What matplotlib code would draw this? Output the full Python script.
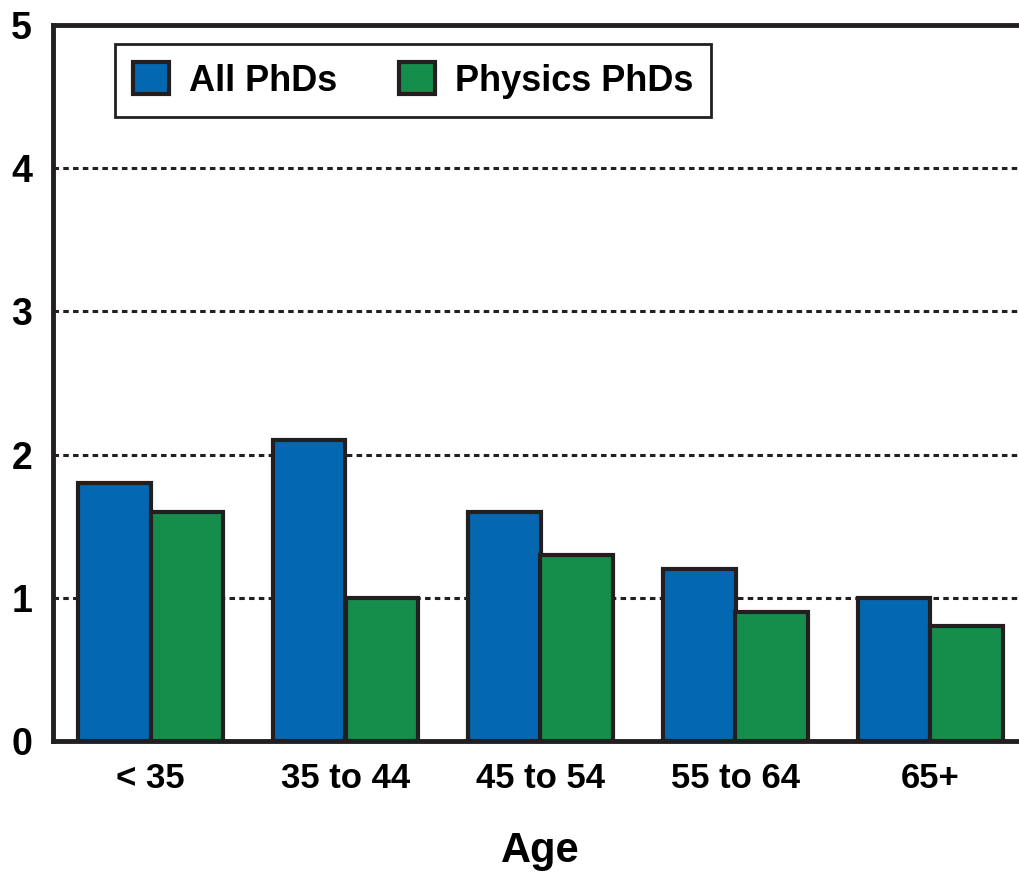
import numpy as np
import matplotlib.pyplot as plt

plt.rcParams['font.family'] = ['Liberation Sans', 'DejaVu Sans']
plt.rcParams['font.weight'] = 'bold'

ages = ['< 35', '35 to 44', '45 to 54', '55 to 64', '65+']
all_phds = [1.8, 2.1, 1.6, 1.2, 1.0]
physics_phds = [1.6, 1.0, 1.3, 0.9, 0.8]

blue = '#0467b1'
green = '#158e4c'
edge = '#231f20'

fig = plt.figure(figsize=(10.2, 8.75), dpi=100)
ax = fig.add_axes([53/1020, 1-741/875, (1028-53)/1020, (741-25)/875])

x = np.arange(len(ages))
w = 0.374
ax.bar(x - w/2, all_phds, w, color=blue, edgecolor=edge, linewidth=3, label='All PhDs', zorder=3)
ax.bar(x + w/2, physics_phds, w, color=green, edgecolor=edge, linewidth=3, label='Physics PhDs', zorder=3)

ax.set_xlim(-0.5, 4.5)
ax.set_ylim(0, 5)
ax.set_yticks([0, 1, 2, 3, 4, 5])
ax.set_xticks(x)
ax.set_xticklabels(ages)
ax.tick_params(axis='both', length=0)
ax.tick_params(axis='x', pad=15, labelsize=25)
ax.tick_params(axis='y', pad=15, labelsize=27)

for yv in [1, 2, 3, 4]:
    ax.axhline(yv, color=edge, linestyle=(0, (1.8, 1.4)), linewidth=2.2, zorder=2)

for s in ['left', 'top', 'bottom']:
    ax.spines[s].set_linewidth(3.5)
    ax.spines[s].set_color(edge)
ax.spines['right'].set_visible(False)

ax.set_xlabel('Age', fontsize=30, fontweight='bold', labelpad=26)

leg = ax.legend(loc='upper left', bbox_to_anchor=(44/975, 1 - 1/716), ncol=2, fontsize=26,
                frameon=True, fancybox=False, edgecolor=edge, framealpha=1,
                handlelength=1.0, handleheight=1.0,
                handletextpad=0.55, columnspacing=1.7, borderpad=0.5)
leg.get_frame().set_linewidth(2)

fig.savefig('out.png', dpi=100)
